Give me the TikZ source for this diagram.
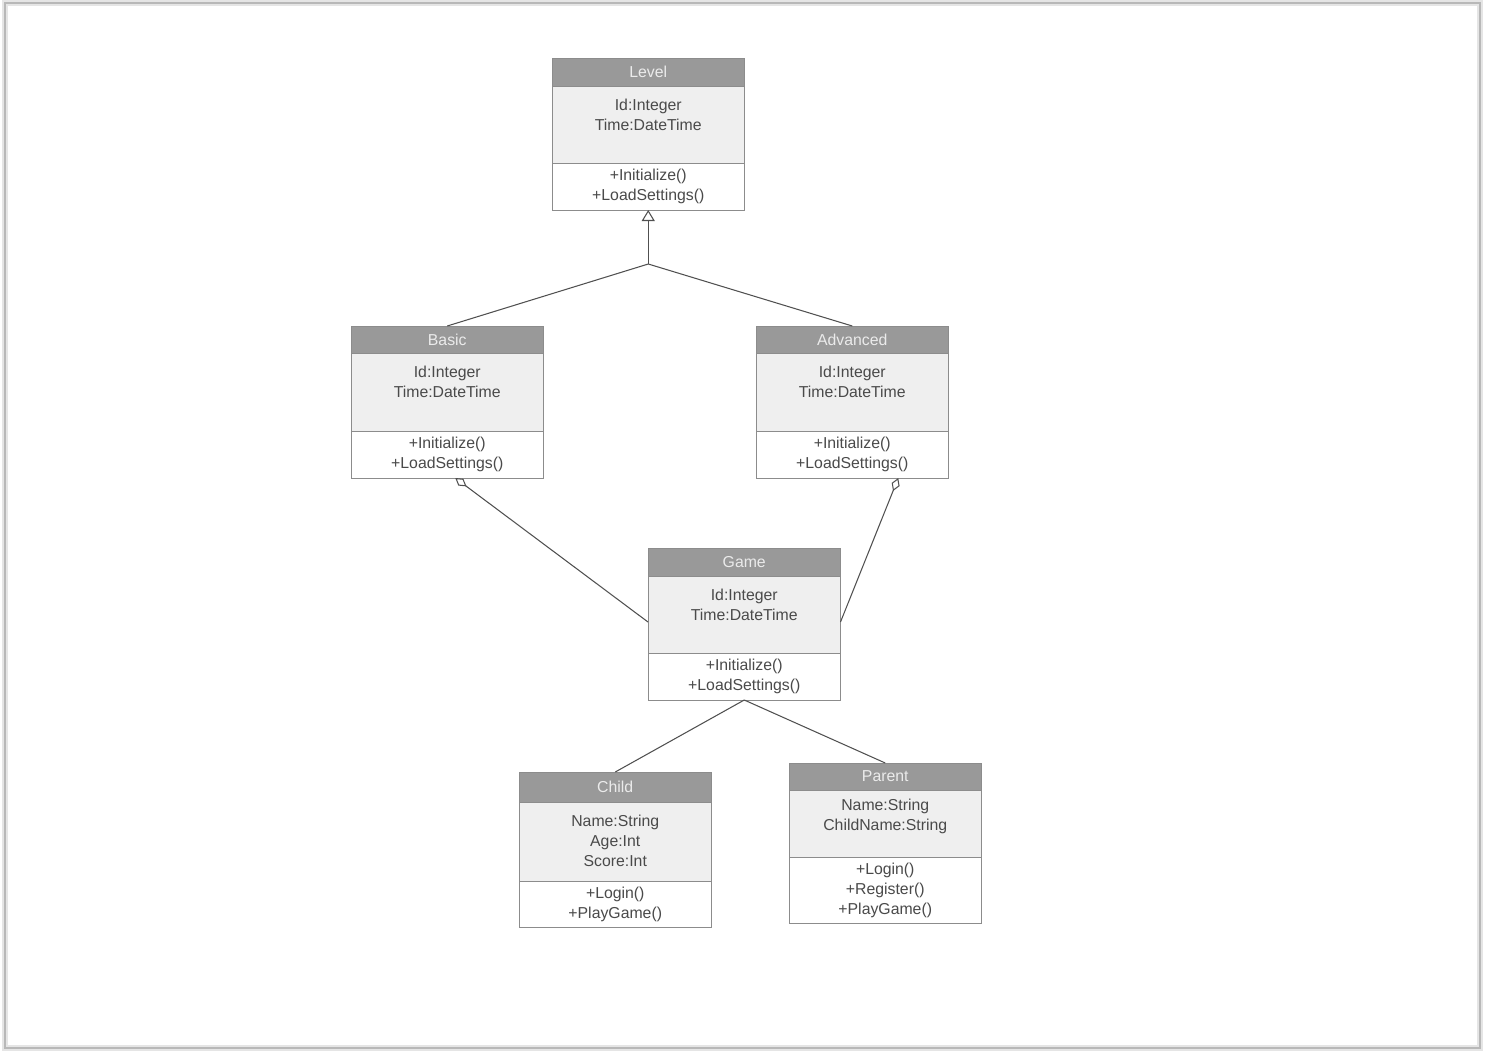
\documentclass[tikz,border=0pt]{standalone}
\usepackage{fontspec}
\setmainfont{Liberation Sans}
\usetikzlibrary{arrows.meta,positioning}
\definecolor{umlline}{HTML}{8C8C8C}
\definecolor{headfill}{HTML}{999999}
\definecolor{attrfill}{HTML}{EFEFEF}
\definecolor{umltext}{HTML}{4A4A4A}
\definecolor{wire}{HTML}{505050}

\begin{document}
\begin{tikzpicture}[
  font=\fontsize{9}{11.4}\selectfont,
  part/.style={draw=umlline,minimum width=3.85cm,inner sep=0pt,outer sep=0pt,
               align=center,text=umltext},
  head/.style={part,fill=headfill,text=white!92!black,anchor=north west},
  attrs/.style={part,fill=attrfill,below=0pt of #1},
  meths/.style={part,fill=white,below=0pt of #1},
  attrtext/.style={anchor=north,align=center,text=umltext,yshift=#1},
  attrtext/.default=-0.14cm,
  conn/.style={wire,line width=0.6pt},
  gen/.style={conn,-{Triangle[open,length=0.22cm,width=0.26cm]}},
  agg/.style={conn,-{Diamond[open,length=0.28cm,width=0.17cm]}}
]
\useasboundingbox (0,0) rectangle (29.78,-21.04);
% page frame
\draw[black!10,line width=3pt] (0.1,-0.06) rectangle (29.6,-20.96);
\draw[black!28,line width=0.7pt] (0.1,-0.06) rectangle (29.6,-20.96);

% Level
\node[head,minimum height=0.56cm] (levelh) at (11.04,-1.16) {Level};
\node[attrs=levelh,minimum height=1.54cm,
      label={[attrtext]north:{Id:Integer\\Time:DateTime}}] (levela) {};
\node[meths=levela,minimum height=0.94cm] (levelm) {+Initialize()\\+LoadSettings()};

% Basic
\node[head,minimum height=0.54cm] (basich) at (7.02,-6.52) {Basic};
\node[attrs=basich,minimum height=1.56cm,
      label={[attrtext]north:{Id:Integer\\Time:DateTime}}] (basica) {};
\node[meths=basica,minimum height=0.94cm] (basicm) {+Initialize()\\+LoadSettings()};

% Advanced
\node[head,minimum height=0.54cm] (advh) at (15.12,-6.52) {Advanced};
\node[attrs=advh,minimum height=1.56cm,
      label={[attrtext]north:{Id:Integer\\Time:DateTime}}] (adva) {};
\node[meths=adva,minimum height=0.94cm] (advm) {+Initialize()\\+LoadSettings()};

% Game
\node[head,minimum height=0.56cm] (gameh) at (12.96,-10.96) {Game};
\node[attrs=gameh,minimum height=1.54cm,
      label={[attrtext]north:{Id:Integer\\Time:DateTime}}] (gamea) {};
\node[meths=gamea,minimum height=0.94cm] (gamem) {+Initialize()\\+LoadSettings()};

% Child
\node[head,minimum height=0.60cm] (childh) at (10.38,-15.44) {Child};
\node[attrs=childh,minimum height=1.58cm,
      label={[attrtext]north:{Name:String\\Age:Int\\Score:Int}}] (childa) {};
\node[meths=childa,minimum height=0.92cm] (childm) {+Login()\\+PlayGame()};

% Parent
\node[head,minimum height=0.54cm] (parenth) at (15.78,-15.26) {Parent};
\node[attrs=parenth,minimum height=1.34cm,
      label={[attrtext=-0.06cm]north:{Name:String\\ChildName:String}}] (parenta) {};
\node[meths=parenta,minimum height=1.32cm] (parentm) {+Login()\\+Register()\\+PlayGame()};

% inheritance
\coordinate[below=1.08cm of levelm] (split);
\draw[gen] (split) -- (levelm);
\draw[conn] (split) -- (basich.north) (split) -- (advh.north);

% aggregation
\draw[agg] ([yshift=-0.15cm]gamea.west) -- ([xshift=0.16cm]basicm.south);
\draw[agg] ([yshift=-0.15cm]gamea.east) -- ([xshift=0.92cm]advm.south);

% association
\draw[conn] (gamem.south) -- (childh.north) (gamem.south) -- (parenth.north);
\end{tikzpicture}
\end{document}
